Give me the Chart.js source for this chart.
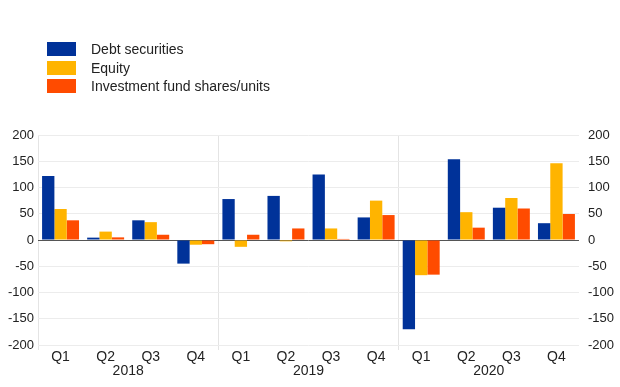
<!DOCTYPE html>
<html>
<head>
<meta charset="utf-8">
<script src="https://cdn.jsdelivr.net/npm/chart.js@4/dist/chart.umd.min.js"></script>
<style>
    body { margin: 0; background: #fff; }
    #wrap { position: relative; width: 620px; height: 387px; }
    #legend { position: absolute; left: 47px; top: 40px; font-family: "Liberation Sans", Arial, sans-serif; font-size: 14px; color: #222; }
    .item { height: 18.5px; display: flex; align-items: center; }
    .box { width: 29px; height: 14px; margin-right: 15px; }
</style>
</head>
<body>
<div id="wrap">
    <canvas id="chart" width="620" height="387"></canvas>
    <div id="legend"></div>
</div>
<script>
const quarters = ["Q1", "Q2", "Q3", "Q4", "Q1", "Q2", "Q3", "Q4", "Q1", "Q2", "Q3", "Q4"];
const years = ["2018", "2019", "2020"];
const series_names = ["Debt securities", "Equity", "Investment fund shares/units"];
const debt_securities = [122, 4.5, 37.5, -45, 78, 84, 125, 43, -170, 154, 61.5, 32];
const equity = [59, 16, 34, -9, -13, -2.5, 22, 75, -67, 53, 80, 146];
const fund_shares = [37.5, 5, 10, -8, 10, 22, 2, 47.5, -66, 23.5, 60, 49.5];
const colors = ["#003299", "#ffb400", "#ff4b00"];

const font = { family: "'Liberation Sans', Arial, sans-serif", size: 13 };
const x_font = { family: "'Liberation Sans', Arial, sans-serif", size: 14, lineHeight: 1 };

const chart = new Chart(document.getElementById("chart"), {
    type: "bar",
    data: {
        labels: quarters,
        datasets: [debt_securities, equity, fund_shares].map((d, i) => ({
            label: series_names[i],
            data: d,
            backgroundColor: colors[i],
            categoryPercentage: 0.82,
            barPercentage: 1
        }))
    },
    options: {
        responsive: false,
        animation: false,
        layout: { padding: { left: 4, right: -3, top: 135, bottom: 9 } },
        plugins: { legend: { display: false }, tooltip: { enabled: false } },
        scales: {
            x: {
                ticks: { color: "#222", font: x_font, padding: 0, maxRotation: 0 },
                grid: {
                    offset: true,
                    color: ctx => ctx.index % 4 === 0 ? "#e4e4e4" : "transparent",
                    tickLength: 5
                },
                border: { display: false }
            },
            x2: {
                type: "category",
                labels: years,
                position: "bottom",
                ticks: { color: "#222", font: x_font, padding: 0 },
                grid: { display: false, drawTicks: false },
                border: { display: false }
            },
            y: {
                min: -200, max: 200,
                ticks: { stepSize: 50, color: "#222", font: font, padding: 4 },
                grid: {
                    color: ctx => ctx.tick && ctx.tick.value === 0 ? "#555" : "#ececec",
                    drawTicks: false
                },
                border: { display: false }
            },
            y2: {
                position: "right",
                min: -200, max: 200,
                ticks: { stepSize: 50, color: "#222", font: font, padding: 9 },
                grid: { display: false, drawTicks: false },
                border: { display: false }
            }
        }
    }
});

// legend as a vertical list, top left
let legend = document.getElementById("legend");
series_names.forEach((name, i) => {
    legend.innerHTML += '<div class="item"><span class="box" style="background:' + colors[i] + '"></span>' + name + '</div>';
});
</script>
</body>
</html>
